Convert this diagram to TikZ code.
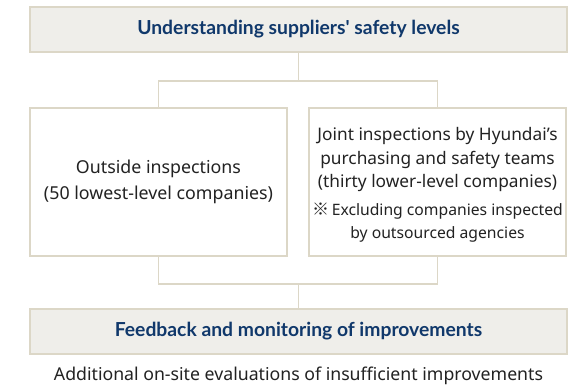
\documentclass[tikz,border=0pt]{standalone}
\usepackage{fontspec}
\setmainfont{Noto Sans}
\newfontfamily\headf{Lato}[UprightFont=* Bold]
\newfontfamily\cjk{Noto Sans CJK KR}
\definecolor{linec}{HTML}{DCD7C7}
\definecolor{boxfill}{HTML}{EFEEEA}
\definecolor{navy}{HTML}{10386B}
\definecolor{bodytxt}{HTML}{222222}
\tikzset{
  headbox/.style={draw=linec, line width=1.2pt, fill=boxfill, minimum width=537pt, minimum height=45pt, inner sep=0pt, text=navy, font=\fontsize{19.3}{22}\headf},
  itembox/.style={draw=linec, line width=1.2pt, fill=white, minimum width=257pt, minimum height=148pt, inner sep=0pt, text=bodytxt, align=center},
  conn/.style={draw=linec, line width=1.2pt}
}
\begin{document}
\begin{tikzpicture}[x=1pt,y=-1pt]
\useasboundingbox (0,0) rectangle (571,389);
\node[headbox] (top) at (298.5,29.5) {Understanding suppliers\textquotesingle\ safety levels};
\node[itembox, font=\fontsize{17.8}{26}\selectfont] (left) at (158.5,182) {Outside inspections\\(50 lowest-level companies)};
\node[itembox] (right) at (437.5,182) {};
\node[text=bodytxt, align=center, font=\fontsize{17.3}{23.5}\selectfont] (rtext) at (437.5,159.5) {Joint inspections by Hyundai’s\\purchasing and safety teams\\(thirty lower-level companies)};
\node[text=bodytxt, align=center, font=\fontsize{15.7}{23}\selectfont] (rnote) at (437.5,222.5) {{\cjk\fontsize{17}{23}\selectfont ※}\,Excluding companies inspected\\by outsourced agencies};
\node[headbox] (bottom) at (298.5,331.5) {Feedback and monitoring of improvements};
\node[text=bodytxt, font=\fontsize{17.7}{20}\selectfont] (extra) at (298.5,376) {Additional on-site evaluations of insufficient improvements};
\coordinate (j1) at (298.5,81);
\coordinate (j2) at (298.5,284);
\draw[conn] (top.south) -- (j1);
\draw[conn] (left.north) |- (j1) -| (right.north);
\draw[conn] (left.south) |- (j2) -| (right.south);
\draw[conn] (j2) -- (bottom.north);
\end{tikzpicture}
\end{document}
